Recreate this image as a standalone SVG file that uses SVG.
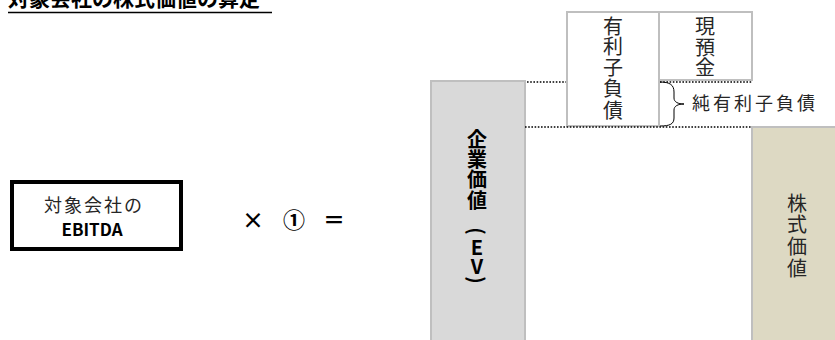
<svg xmlns="http://www.w3.org/2000/svg" width="835" height="340" viewBox="0 0 835 340">
<style>
.jp{font-family:"Noto Sans CJK JP","Noto Sans",sans-serif;fill:#262626}
.b{font-weight:bold;fill:#000}
.v{font-size:20px;text-anchor:middle;dominant-baseline:central}
.box{fill:#fff;stroke:#bfbfbf;stroke-width:2}
.dot{stroke:#000;stroke-width:1.6;stroke-dasharray:1.6 1.6;fill:none}
</style>
<rect width="835" height="340" fill="#fff"/>
<g id="title">
<text class="jp b" x="8" y="6" font-size="21">対象会社の株式価値の算定</text>
<line x1="8" y1="12.5" x2="272" y2="12.5" stroke="#000" stroke-width="1.6"/>
</g>
<g id="ebitda">
<rect x="12" y="182" width="169" height="67" fill="#fff" stroke="#000" stroke-width="4"/>
<text class="jp" x="94" y="212" font-size="18" text-anchor="middle" letter-spacing="2" fill="#404040">対象会社の</text>
<text class="jp b" x="92" y="236" font-size="17" text-anchor="middle">EBITDA</text>
</g>
<g id="operators">
<text class="jp b" x="253" y="228" font-size="22" text-anchor="middle">×</text>
<text class="jp b" x="294" y="228" font-size="22" text-anchor="middle">①</text>
<text class="jp b" x="334" y="228" font-size="22" text-anchor="middle">＝</text>
</g>
<g id="ev">
<rect x="431" y="81" width="94" height="270" fill="#d9d9d9" stroke="#bfbfbf" stroke-width="2"/>
<text class="jp b v" x="477" y="138">企</text>
<text class="jp b v" x="477" y="158">業</text>
<text class="jp b v" x="477" y="178">価</text>
<text class="jp b v" x="477" y="199">値</text>
<g transform="translate(477 231) rotate(90)"><text class="jp b v" x="0" y="0">(</text></g>
<text class="jp b v" x="477" y="246">E</text>
<text class="jp b v" x="477" y="265">V</text>
<g transform="translate(477 280) rotate(90)"><text class="jp b v" x="0" y="0">)</text></g>
</g>
<g id="debt">
<rect class="box" x="567" y="12" width="92" height="114"/>
<text class="jp v" x="613" y="25">有</text>
<text class="jp v" x="613" y="45">利</text>
<text class="jp v" x="613" y="66">子</text>
<text class="jp v" x="613" y="87">負</text>
<text class="jp v" x="613" y="109">債</text>
</g>
<g id="cash">
<rect class="box" x="659" y="12" width="93" height="68"/>
<text class="jp v" x="705" y="25">現</text>
<text class="jp v" x="705" y="46">預</text>
<text class="jp v" x="705" y="66">金</text>
</g>
<g id="equity">
<rect x="752" y="127" width="90" height="225" fill="#ddd9c3" stroke="#bfbfbf" stroke-width="2"/>
<text class="jp v" x="797" y="202">株</text>
<text class="jp v" x="797" y="223">式</text>
<text class="jp v" x="797" y="245">価</text>
<text class="jp v" x="797" y="267">値</text>
</g>
<g id="netdebt">
<text class="jp" x="692" y="110" font-size="18" letter-spacing="3">純有利子負債</text>
</g>
<g id="connectors">
<line class="dot" x1="527" y1="82" x2="566" y2="82"/>
<line class="dot" x1="660" y1="82" x2="752" y2="82"/>
<line class="dot" x1="525" y1="127" x2="752" y2="127"/>
<path d="M660,82 C670,82 674,85 674,92 L674,98 C674,102 678,104 684,104 C678,104 674,106 674,110 L674,118 C674,124 670,126 660,126" fill="none" stroke="#000" stroke-width="1"/>
</g>
</svg>
